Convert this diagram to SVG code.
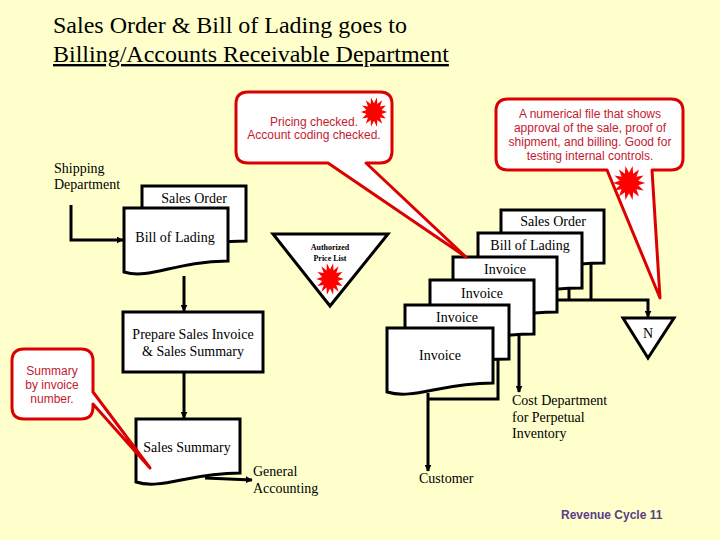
<svg xmlns="http://www.w3.org/2000/svg" width="720" height="540" viewBox="0 0 720 540">
<style>
.t{font-family:"Liberation Serif","Times New Roman",serif;font-size:14px;fill:#000}
.title{font-family:"Liberation Serif","Times New Roman",serif;font-size:24px;fill:#000}
.c{font-family:"Liberation Sans",Arial,sans-serif;font-size:12px;fill:#c41a30}
.doc{fill:#fff;stroke:#000;stroke-width:3;stroke-linejoin:miter}
.box{fill:#fff;stroke:#000;stroke-width:3}
.line{fill:none;stroke:#000;stroke-width:3}
.call{fill:#fff;stroke:#dd0000;stroke-width:3;stroke-linejoin:round}
.star{fill:#ff0000}
</style>
<defs>
<marker id="ah" viewBox="0 0 10 10" refX="9" refY="5" markerWidth="7" markerHeight="7" markerUnits="userSpaceOnUse" orient="auto">
<path d="M0,0 L10,5 L0,10 Z" fill="#000"/>
</marker>
<polygon id="starShape" points="12,0 6.82,1.56 10.81,5.21 5.47,4.36 7.48,9.38 3.04,6.31 2.67,11.7 0,7 -2.67,11.7 -3.04,6.31 -7.48,9.38 -5.47,4.36 -10.81,5.21 -6.82,1.56 -12,0 -6.82,-1.56 -10.81,-5.21 -5.47,-4.36 -7.48,-9.38 -3.04,-6.31 -2.67,-11.7 0,-7 2.67,-11.7 3.04,-6.31 7.48,-9.38 5.47,-4.36 10.81,-5.21 6.82,-1.56"/>
</defs>
<rect width="720" height="540" fill="#ffffcc"/>

<g id="title">
<text class="title" x="53" y="33">Sales Order &amp; Bill of Lading goes to</text>
<text class="title" x="53" y="62" text-decoration="underline">Billing/Accounts Receivable Department</text>
</g>

<g id="connectors">
<path class="line" d="M71,205 V240 H123" marker-end="url(#ah)"/>
<path class="line" d="M184,276 V311" marker-end="url(#ah)"/>
<path class="line" d="M184,372 V418" marker-end="url(#ah)"/>
<path class="line" d="M205,478 L252,480" marker-end="url(#ah)"/>
<path class="line" d="M591,263 V300"/>
<path class="line" d="M569,288 V300"/>
<path class="line" d="M556,300 H648 V317" marker-end="url(#ah)"/>
<path class="line" d="M519,334 V392" marker-end="url(#ah)"/>
<path class="line" d="M498,359 V399 H428"/>
<path class="line" d="M428,393 V471" marker-end="url(#ah)"/>
</g>

<g id="shipping-label">
<text class="t" x="54" y="173">Shipping</text>
<text class="t" x="54" y="189">Department</text>
</g>

<g id="left-sales-order">
<path class="doc" d="M142,186 H246 V241 C194,241 168,253 142,252 Z"/>
<text class="t" x="194" y="203" text-anchor="middle">Sales Order</text>
</g>
<g id="left-bill-of-lading">
<path class="doc" d="M124,208 H228 V261 C176,261 150,280 124,272 Z"/>
<text class="t" x="175" y="242" text-anchor="middle">Bill of Lading</text>
</g>

<g id="prepare">
<rect class="box" x="123" y="312" width="140" height="60"/>
<text class="t" x="193" y="339" text-anchor="middle">Prepare Sales Invoice</text>
<text class="t" x="193" y="356" text-anchor="middle">&amp; Sales Summary</text>
</g>

<g id="sales-summary">
<path class="doc" d="M136,419 H240 V473 C188,473 162,490 136,482 Z"/>
<text class="t" x="187" y="452" text-anchor="middle">Sales Summary</text>
</g>

<g id="general-accounting">
<text class="t" x="253" y="476">General</text>
<text class="t" x="253" y="493">Accounting</text>
</g>

<g id="price-list">
<polygon class="box" points="273,234 388,234 330,306"/>
<text x="330" y="250" text-anchor="middle" font-family="Liberation Serif,serif" font-size="8" font-weight="bold">Authorized</text>
<text x="330" y="261" text-anchor="middle" font-family="Liberation Serif,serif" font-size="8" font-weight="bold">Price List</text>
<use href="#starShape" class="star" transform="translate(330,279) scale(1.15,1.35)"/>
</g>

<g id="stack-sales-order">
<path class="doc" d="M501,210 H604 V263 C553,263 527,276 501,270 Z"/>
<text class="t" x="553" y="226" text-anchor="middle">Sales Order</text>
</g>
<g id="stack-bill-of-lading">
<path class="doc" d="M478,233 H582 V288 C530,288 504,300 478,295 Z"/>
<text class="t" x="530" y="250" text-anchor="middle">Bill of Lading</text>
</g>
<g id="stack-invoice-1">
<path class="doc" d="M453,257 H557 V312 C505,312 479,324 453,319 Z"/>
<text class="t" x="505" y="274" text-anchor="middle">Invoice</text>
</g>
<g id="stack-invoice-2">
<path class="doc" d="M430,280 H534 V334 C482,334 456,347 430,341 Z"/>
<text class="t" x="482" y="298" text-anchor="middle">Invoice</text>
</g>
<g id="stack-invoice-3">
<path class="doc" d="M405,305 H509 V359 C457,359 431,372 405,366 Z"/>
<text class="t" x="457" y="322" text-anchor="middle">Invoice</text>
</g>
<g id="stack-invoice-4">
<path class="doc" d="M387,328 H493 V383 C440,383 414,400 387,392 Z"/>
<text class="t" x="440" y="360" text-anchor="middle">Invoice</text>
</g>

<g id="file-n">
<polygon class="box" points="623,318 674,318 648,358"/>
<text class="t" x="648" y="338" text-anchor="middle">N</text>
</g>

<g id="cost-department">
<text class="t" x="512" y="405">Cost Department</text>
<text class="t" x="512" y="422">for Perpetual</text>
<text class="t" x="512" y="438">Inventory</text>
</g>

<g id="customer">
<text class="t" x="419" y="483">Customer</text>
</g>

<g id="callout-pricing">
<path class="call" d="M248,92 H380 Q392,92 392,104 V151 Q392,163 380,163 H366 L466,257 L328,163 H248 Q236,163 236,151 V104 Q236,92 248,92 Z"/>
<text class="c" x="314" y="126" text-anchor="middle">Pricing checked.</text>
<text class="c" x="314" y="139" text-anchor="middle">Account coding checked.</text>
<use href="#starShape" class="star" transform="translate(374,112) scale(1.1,1.25)"/>
</g>

<g id="callout-file">
<path class="call" d="M508,99 H671 Q683,99 683,111 V158 Q683,170 671,170 H652 L660,298 L607,170 H508 Q496,170 496,158 V111 Q496,99 508,99 Z"/>
<text class="c" x="590" y="118" text-anchor="middle">A numerical file that shows</text>
<text class="c" x="590" y="132" text-anchor="middle">approval of the sale, proof of</text>
<text class="c" x="590" y="146" text-anchor="middle">shipment, and billing. Good for</text>
<text class="c" x="590" y="160" text-anchor="middle">testing internal controls.</text>
<use href="#starShape" class="star" transform="translate(629,183) scale(1.35,1.45)"/>
</g>

<g id="callout-summary">
<path class="call" d="M24,349 H81 Q93,349 93,361 V392 L150,468 L93,404 V407 Q93,419 81,419 H24 Q12,419 12,407 V361 Q12,349 24,349 Z"/>
<text class="c" x="52" y="375" text-anchor="middle">Summary</text>
<text class="c" x="52" y="389" text-anchor="middle">by invoice</text>
<text class="c" x="52" y="403" text-anchor="middle">number.</text>
</g>

<g id="footer">
<text x="561" y="519" font-family="Liberation Sans,Arial,sans-serif" font-size="12" font-weight="bold" fill="#5a3d8a">Revenue Cycle 11</text>
</g>
</svg>
